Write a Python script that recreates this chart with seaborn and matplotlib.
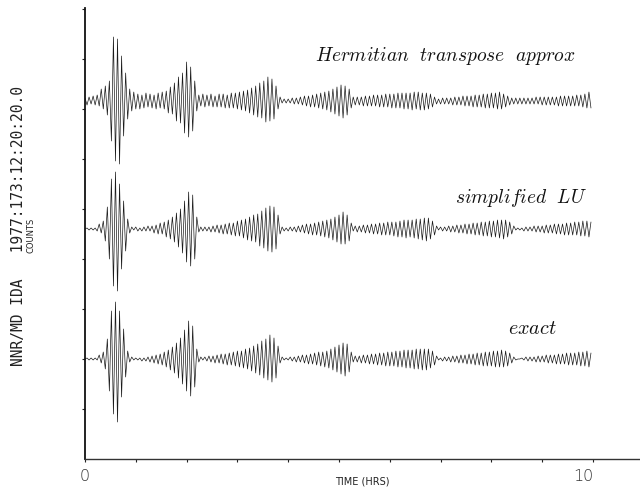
import numpy as np
import pandas as pd
import matplotlib
matplotlib.use("Agg")
import matplotlib.pyplot as plt
import seaborn as sns

# ---------------- data ----------------
TRACE_NAMES = ["Hermitian transpose approx", "simplified LU", "exact"]
BASELINES = [358, 230, 100]          # counts, vertical offset of each trace
SAMPLE_INTERVAL_HR = 0.04            # spacing of successive half-cycle extrema

HERMITIAN = [
    3, -4, 4, -3, 5, -4, 6, -5, 12, -8,
    15, -14, 20, -40, 64, -60, 62, -63, 45, -35,
    28, -18, 12, -10, 9, -8, 7, -8, 6, -7,
    8, -6, 7, -7, 6, -8, 8, -7, 9, -8,
    10, -12, 14, -13, 18, -20, 24, -22, 28, -32,
    39, -36, 34, -30, 20, -10, 6, -5, 7, -6,
    6, -5, 7, -6, 5, -6, 7, -6, 7, -7,
    6, -7, 8, -7, 8, -8, 9, -9, 10, -10,
    11, -12, 13, -14, 15, -16, 18, -17, 20, -21,
    24, -20, 22, -18, 15, -8, 4, -2, 2, -2,
    2, -2, 3, -3, 3, -3, 4, -4, 5, -5,
    5, -6, 6, -6, 7, -7, 8, -8, 9, -9,
    10, -11, 12, -13, 14, -15, 16, -17, 15, -14,
    12, -7, 4, -4, 4, -4, 4, -5, 5, -5,
    5, -5, 6, -5, 6, -6, 6, -6, 7, -6,
    7, -7, 7, -7, 8, -7, 8, -8, 8, -8,
    8, -9, 9, -8, 9, -9, 8, -9, 8, -8,
    7, -6, 4, -3, 2, -3, 3, -3, 3, -3,
    3, -4, 4, -4, 4, -4, 5, -5, 5, -5,
    5, -6, 6, -6, 6, -6, 7, -7, 7, -7,
    8, -7, 8, -8, 9, -8, 7, -6, 5, -4,
    3, -3, 3, -3, 3, -3, 3, -3, 3, -3,
    3, -3, 4, -3, 4, -4, 4, -4, 4, -4,
    4, -4, 4, -5, 5, -5, 5, -5, 5, -5,
    5, -5, 6, -5, 6, -6, 7, -7, 9, -7,
]

SIMPLIFIED_LU = [
    0, 1, -1, 1, -1, 1, -2, 5, -4, 8,
    -12, 22, -30, 50, -57, 57, -62, 45, -40, 28,
    -22, 10, -4, 2, -1, 2, -2, 1, -2, 2,
    -2, 3, -2, 3, -4, 4, -5, 6, -5, 7,
    -8, 9, -10, 12, -13, 16, -18, 20, -24, 28,
    -33, 37, -37, 34, -30, 12, -3, 2, -2, 2,
    -2, 2, -3, 3, -3, 4, -4, 4, -5, 5,
    -5, 6, -6, 6, -7, 8, -7, 9, -9, 10,
    -11, 12, -12, 14, -13, 15, -17, 18, -19, 21,
    -22, 23, -23, 22, -20, 14, -5, 2, -2, 1,
    -2, 2, -2, 2, -3, 3, -3, 4, -4, 5,
    -5, 5, -6, 6, -6, 7, -7, 8, -8, 9,
    -9, 10, -11, 12, -13, 14, -15, 17, -15, 14,
    -12, 6, -2, 3, -3, 3, -3, 4, -4, 4,
    -4, 5, -5, 5, -5, 6, -6, 6, -6, 7,
    -6, 7, -7, 7, -8, 8, -8, 9, -9, 9,
    -8, 9, -9, 10, -10, 10, -11, 11, -12, 11,
    -10, 8, -6, 3, -1, 2, -2, 2, -2, 3,
    -3, 3, -3, 4, -4, 4, -4, 5, -5, 5,
    -5, 6, -6, 6, -6, 7, -7, 7, -7, 8,
    -8, 8, -8, 9, -9, 9, -10, 9, -8, 7,
    -5, 3, -1, 1, -1, 1, -2, 2, -2, 2,
    -2, 3, -3, 3, -3, 3, -4, 4, -4, 4,
    -4, 5, -5, 5, -5, 5, -6, 6, -6, 6,
    -6, 7, -6, 7, -7, 8, -7, 8, -8, 7,
]

EXACT = [
    0, 1, -1, 1, -1, 1, -1, 4, -4, 7,
    -10, 20, -32, 48, -55, 57, -63, 48, -38, 30,
    -18, 8, -3, 2, -1, 1, -1, 1, -2, 1,
    -2, 2, -3, 3, -4, 4, -5, 5, -6, 7,
    -8, 9, -11, 12, -14, 16, -19, 21, -25, 29,
    -32, 38, -37, 33, -28, 10, -3, 2, -1, 2,
    -2, 3, -3, 3, -4, 4, -4, 5, -5, 5,
    -6, 6, -6, 7, -7, 8, -8, 8, -9, 10,
    -10, 11, -12, 13, -14, 15, -16, 18, -19, 20,
    -21, 24, -23, 21, -19, 13, -4, 2, -1, 1,
    -1, 2, -2, 2, -3, 3, -3, 4, -4, 4,
    -5, 5, -5, 6, -6, 7, -7, 7, -8, 8,
    -9, 10, -11, 12, -13, 14, -15, 16, -17, 15,
    -13, 7, -3, 3, -3, 3, -4, 4, -4, 4,
    -5, 5, -5, 5, -6, 6, -6, 6, -7, 7,
    -7, 7, -7, 8, -8, 8, -8, 9, -9, 9,
    -9, 9, -10, 10, -10, 10, -11, 10, -11, 10,
    -9, 8, -6, 3, -1, 1, -2, 2, -2, 2,
    -3, 3, -3, 3, -4, 4, -4, 4, -5, 5,
    -5, 5, -6, 6, -6, 6, -7, 7, -7, 7,
    -7, 8, -8, 8, -8, 9, -8, 8, -7, 6,
    -4, 2, -1, 0, 0, 1, -1, 2, -2, 2,
    -2, 2, -3, 3, -3, 3, -3, 4, -4, 4,
    -4, 4, -5, 5, -5, 5, -5, 6, -6, 6,
    -6, 6, -6, 7, -7, 7, -7, 8, -8, 6,
]

X_TICKS = list(range(0, 11))
X_TICK_LABELS = ["0"] + [""] * 9 + ["10"]
Y_TICKS = list(range(50, 451, 50))

# ---------------- build a long table ----------------
frames = []
for name, base, vals in zip(TRACE_NAMES, BASELINES, [HERMITIAN, SIMPLIFIED_LU, EXACT]):
    v = np.asarray(vals, dtype=float)
    frames.append(pd.DataFrame({
        "trace": name,
        "t": np.arange(len(v)) * SAMPLE_INTERVAL_HR,
        "counts": base + v,
    }))
df = pd.concat(frames, ignore_index=True)

# ---------------- draw ----------------
sns.set_style("ticks")
plt.rcParams["mathtext.fontset"] = "cm"

fig = plt.figure(figsize=(6.4, 4.89), dpi=100)
ax = fig.add_axes([85 / 640, 29 / 489, 555 / 640, 451 / 489])

sns.lineplot(data=df, x="t", y="counts", units="trace", estimator=None,
             color="#1a1a1a", linewidth=0.5, ax=ax, legend=False, sort=False)

ax.set_xlim(0, 555 / 50.8)
ax.set_ylim(0, 451)
ax.set_xticks(X_TICKS)
ax.set_xticklabels(X_TICK_LABELS, fontsize=11.5, fontweight="light", color="#333333")
tl = ax.get_xticklabels()
tl[-1].set_ha("right")
ax.set_yticks(Y_TICKS)
ax.set_yticklabels([])
ax.tick_params(axis="both", direction="out", length=2.5, width=0.8, colors="#222222")
ax.tick_params(axis="x", pad=4, labelcolor="#333333")

for s in ["top", "right"]:
    ax.spines[s].set_visible(False)
ax.spines["left"].set_linewidth(1.3)
ax.spines["left"].set_color("#111111")
ax.spines["bottom"].set_linewidth(1.0)
ax.spines["bottom"].set_color("#333333")

ax.set_xlabel("TIME (HRS)", fontsize=7, color="#222222", va="center")
ax.xaxis.set_label_coords(0.5, -22 / 451)
ax.set_ylabel("")

# trace labels
fig.text(445 / 640, 1 - 56 / 489, r"$\mathit{Hermitian\ \ transpose\ \ approx}$",
         fontsize=14, ha="center", va="center", color="#111111")
fig.text(521 / 640, 1 - 198 / 489, r"$\mathit{simplified\ \ LU}$",
         fontsize=14, ha="center", va="center", color="#111111")
fig.text(532 / 640, 1 - 329 / 489, r"$\mathit{exact}$",
         fontsize=14.5, ha="center", va="center", color="#111111")

# vertical labels
fig.text(19 / 640, 1 - 226 / 489, "NNR/MD IDA   1977:173:12:20:20.0",
         rotation=90, fontsize=10.5, family="DejaVu Sans Mono",
         ha="center", va="center", color="#222222")
fig.text(31 / 640, 1 - 235 / 489, "COUNTS", rotation=90, fontsize=6,
         ha="center", va="center", color="#222222")

fig.savefig("out.png", dpi=100)
